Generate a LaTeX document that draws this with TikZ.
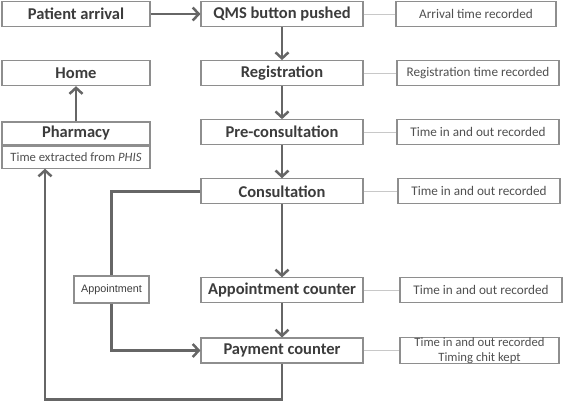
\documentclass[tikz,border=0pt]{standalone}
\usepackage{fontspec}
\setmainfont{Carlito}
\newfontfamily\arialfont{Liberation Sans}
\usetikzlibrary{positioning}
\usetikzlibrary{arrows.meta}
\definecolor{linegray}{HTML}{666666}
\definecolor{boxgray}{HTML}{8E8E8E}
\definecolor{textgray}{HTML}{3C3C3C}
\definecolor{linkgray}{HTML}{C8C8C8}

\begin{document}
\begin{tikzpicture}[x=1pt, y=-1pt, -{Straight Barb[length=6pt,width=13pt]}, draw=linegray, line width=2.5pt, node distance=33pt]
    \tikzstyle{stepbox}=[draw=boxgray, line width=1.1pt, fill=white, minimum width=162pt, minimum height=25pt, inner sep=0pt, text=textgray, font=\fontsize{16.5}{18}\selectfont\bfseries]
    \tikzstyle{notebox}=[draw=boxgray, line width=1.1pt, fill=white, minimum width=162pt, minimum height=25pt, inner sep=0pt, text=textgray!90, align=center, font=\fontsize{13.2}{11.5}\selectfont]
    \tikzstyle{apptbox}=[draw=boxgray, line width=1.1pt, fill=white, minimum width=75pt, minimum height=27pt, inner sep=0pt, text=textgray, font=\arialfont\fontsize{10.8}{12}\selectfont]
    \tikzstyle{notelink}=[-, draw=linkgray, line width=0.8pt]

    \useasboundingbox (0,0) rectangle (564,400);

    % main flow
    \node[stepbox] (qms) at (282,14) {QMS button pushed};
    \node[stepbox, below=of qms] (reg) {Registration};
    \node[stepbox, below=of reg] (precons) {Pre-consultation};
    \node[stepbox, below=of precons] (cons) {Consultation};
    \node[stepbox, below=73pt of cons] (appc) {Appointment counter};
    \node[stepbox, below=34pt of appc] (pay) {Payment counter};

    % left column
    \node[stepbox, minimum width=148pt] (arrival) at (76,14) {Patient arrival};
    \node[stepbox, minimum width=148pt, below=of arrival] (home) {Home};
    \node[stepbox, minimum width=148pt, minimum height=23pt] (pharm) at (76,133.5) {Pharmacy};
    \node[notebox, minimum width=148pt, minimum height=22pt, below=0pt of pharm, font=\fontsize{12.7}{14}\selectfont] (phis) {Time extracted from \textit{PHIS}};
    \node[apptbox] (appt) at (111.5,289.5) {Appointment};

    % records
    \node[notebox, minimum width=160pt] (rec1) at (476,14) {Arrival time recorded};
    \node[notebox] (rec2) at (478,0 |- reg) {Registration time recorded};
    \node[notebox] (rec3) at (478,0 |- precons) {Time in and out recorded};
    \node[notebox] (rec4) at (479,0 |- cons) {Time in and out recorded};
    \node[notebox] (rec5) at (481,0 |- appc) {Time in and out recorded};
    \node[notebox, minimum width=159pt, font=\fontsize{12.7}{14.5}\selectfont] (rec6) at (479.5,0 |- pay) {Time in and out recorded\\Timing chit kept};

    \draw[notelink] (qms) -- (rec1);
    \draw[notelink] (reg) -- (rec2);
    \draw[notelink] (precons) -- (rec3);
    \draw[notelink] (cons) -- (rec4);
    \draw[notelink] (appc) -- (rec5);
    \draw[notelink] (pay) -- (rec6);

    \draw (arrival) -- (qms);
    \draw (qms) -- (reg);
    \draw (reg) -- (precons);
    \draw (precons) -- (cons);
    \draw (cons) -- (appc);
    \draw (appc) -- (pay);
    \draw (pharm) -- (home);

    % appointment branch
    \draw[-] (cons.west) -| (appt.north);
    \draw (appt.south) |- (pay.west);

    % back to pharmacy
    \coordinate[below=36pt of pay.south] (turn);
    \coordinate (phisin) at ([xshift=-31pt]phis.south);
    \draw (pay.south) -- (turn) -| (phisin);
\end{tikzpicture}
\end{document}
